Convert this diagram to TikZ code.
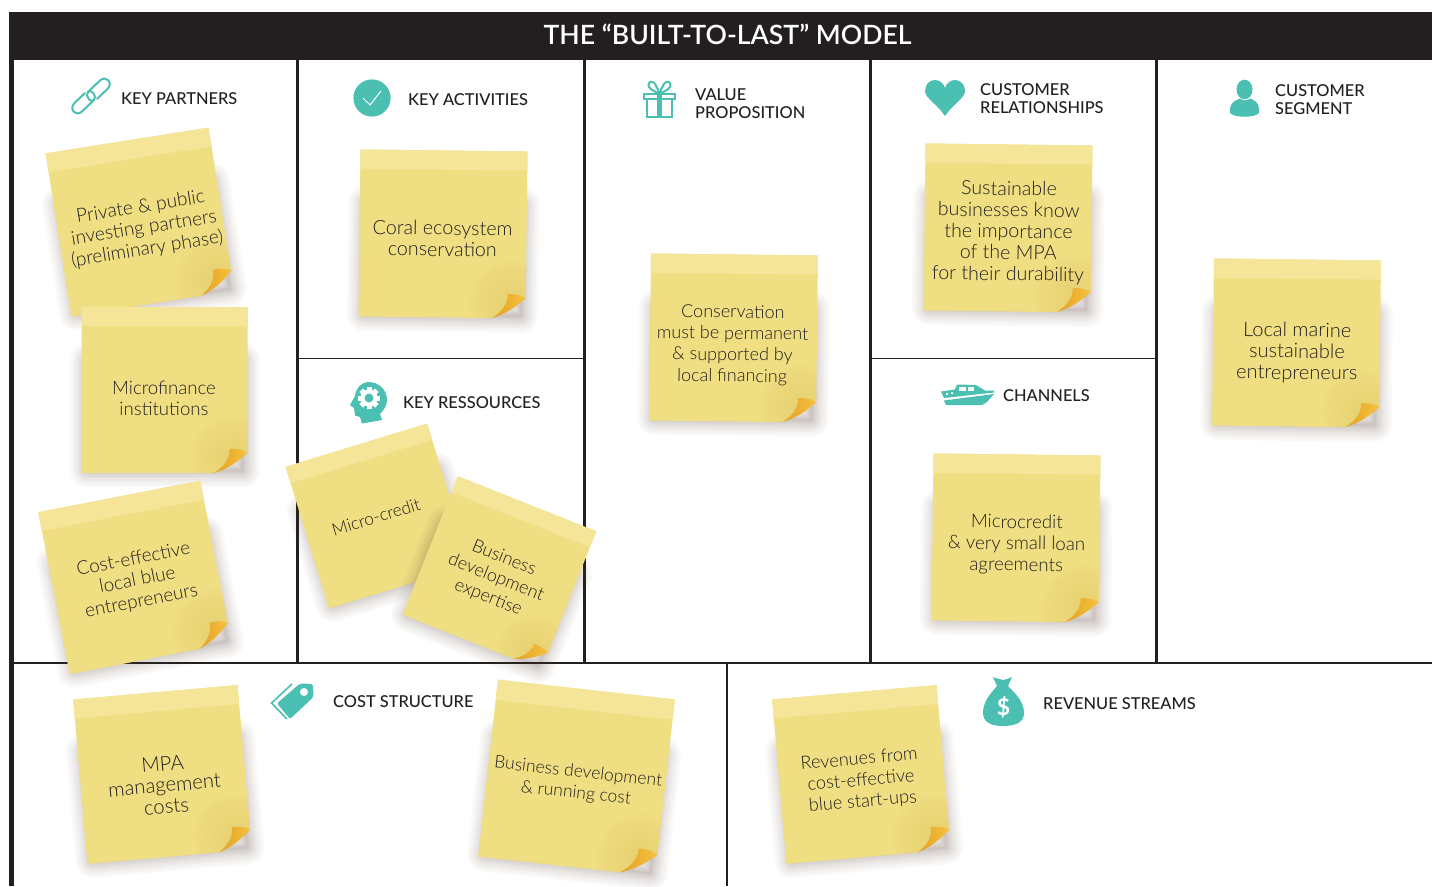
\documentclass[tikz,border=0pt]{standalone}
\usepackage{fontspec}
\setmainfont{Lato}
\newfontfamily\notefont{Lato Light}
\newfontfamily\headfont{Lato Medium}
\newfontfamily\titlefont{Lato Semibold}
\definecolor{ink}{HTML}{231F20}
\definecolor{teal}{HTML}{4BBFB1}
\definecolor{notebody}{HTML}{F0DE82}
\definecolor{noteband}{HTML}{F4E599}
\definecolor{noteshade}{HTML}{CDB04E}
\definecolor{foldA}{HTML}{E5A023}
\definecolor{foldB}{HTML}{F4C23F}
\definecolor{shadowc}{HTML}{5E4238}
\def\nfs{18.6}
\tikzset{
  gridline/.style={draw=ink,line width=2.8pt},
  thinline/.style={draw=ink,line width=1.8pt},
  icon/.style={fill=teal,draw=none},
  iconline/.style={draw=teal,line width=2pt,fill=none},
  heading/.style={anchor=west,inner sep=0pt,align=left,text=ink,font=\headfont\fontsize{16.4}{18}\selectfont},
  notetext/.style={inner sep=0pt,align=center,text=ink,font=\notefont\fontsize{\nfs}{21.3}\selectfont},
}
% name, cx, cy, rotation, size, text x, text y, text
\newcommand{\stickynote}[8]{%
  \begin{scope}[shift={(#2,#3)},rotate=#4,scale=#5/165]
    \foreach \w in {1,3,5,7,10,13,16,20,24,29,34}
      \draw[shadowc,opacity=.03,line width=\w pt,line join=round]
        (-77,-30) -- (78,-30) -- (78,80) -- (-77,80) -- cycle;
    \fill[notebody] (-82.5,-82.5) -- (82.5,-82.5) -- (82.5,62.5)
      .. controls (76,58.5) and (71,58.5) .. (64.5,58.5)
      .. controls (65,69) and (58,77) .. (49.5,82.5) -- (-82.5,82.5) -- cycle;
    \begin{scope}
      \clip (-82.5,-82.5) -- (82.5,-82.5) -- (82.5,62.5)
        .. controls (76,58.5) and (71,58.5) .. (64.5,58.5)
        .. controls (65,69) and (58,77) .. (49.5,82.5) -- (-82.5,82.5) -- cycle;
      \foreach \r in {6,10,...,42}
        \fill[noteshade,opacity=.022] (68,68) circle[radius=\r pt];
    \end{scope}
    \fill[noteband] (-82.5,-82.5) -- (82.5,-82.5) -- (82.5,-63.5) -- (-82.5,-63.5) -- cycle;
    \shade[left color=foldA,right color=foldB]
      (64.5,58.5) .. controls (71,58.5) and (76,58.5) .. (82.5,62.5)
      .. controls (74,70) and (64,78) .. (49.5,82.5)
      .. controls (58,77) and (65,69) .. (64.5,58.5) -- cycle;
  \end{scope}
  \node[notetext,rotate=#4] (#1) at (#6,#7) {#8};
}
\begin{document}
\begin{tikzpicture}[x=1pt,y=-1pt]
\useasboundingbox (0,0) rectangle (1432,886);
\fill[white] (0,0) rectangle (1432,886);
% frame
\fill[ink] (9,12) rectangle (1432,60);
\coordinate (lefttop) at (11.5,60);
\coordinate (leftbot) at (11.5,886);
\draw[draw=ink,line width=4.6pt] (lefttop) -- (leftbot);
\node[inner sep=0pt,text=white,font=\titlefont\fontsize{26.6}{30}\selectfont] (title) at (727.5,34) {THE “BUILT-TO-LAST” MODEL};
\foreach \x/\nm in {297.7/a,584.2/b,870.7/c,1156.8/d}{
  \coordinate (t\nm) at (\x,60);
  \coordinate (b\nm) at (\x,663);
  \draw[gridline] (t\nm) -- (b\nm);
}
\coordinate (midl) at (14,663);
\coordinate (midr) at (1432,663);
\draw[gridline] (midl) -- (midr);
\coordinate (splitt) at (727,663);
\coordinate (splitb) at (727,886);
\draw[gridline] (splitt) -- (splitb);
\coordinate (h1a) at (298,358.5);
\coordinate (h1b) at (584,358.5);
\draw[thinline] (h1a) -- (h1b);
\coordinate (h2a) at (871,358.5);
\coordinate (h2b) at (1157,358.5);
\draw[thinline] (h2a) -- (h2b);
% headings
\node[heading] (hpartners) at (121,99) {KEY PARTNERS};
\node[heading] (hactivities) at (408,100) {KEY ACTIVITIES};
\node[heading] (hvalue) at (695,104) {VALUE\\PROPOSITION};
\node[heading] (hrel) at (980,98.5) {CUSTOMER\\RELATIONSHIPS};
\node[heading] (hseg) at (1275,99.5) {CUSTOMER\\SEGMENT};
\node[heading] (hres) at (403,403) {KEY RESSOURCES};
\node[heading] (hchan) at (1003,396) {CHANNELS};
\node[heading] (hcost) at (333,702) {COST STRUCTURE};
\node[heading] (hrev) at (1043,703.5) {REVENUE STREAMS};
% link icon
\draw[iconline,line cap=round] (85,93) -- (75,102.5) .. controls (71,106) and (72,110) .. (74,112)
  .. controls (76,114) and (79,114) .. (82,111.5) -- (93,101)
  .. controls (96,98) and (95,94.5) .. (93,92.5) .. controls (92,91.5) and (90,91) .. (88,91.5);
\draw[iconline,line cap=round] (97,99) -- (107,89.5) .. controls (111,86) and (110,82) .. (108,80)
  .. controls (106,78) and (103,78) .. (100,80.5) -- (89,91)
  .. controls (86,94) and (87,97.5) .. (89,99.5) .. controls (90,100.5) and (92,101) .. (94,100.5);
% check icon
\fill[icon] (372,98) circle[radius=18.6pt];
\draw[white,line width=1pt] (363,98) -- (370,105) -- (381,91);
% gift icon
\draw[iconline] (644,93.5) rectangle (674.5,98.5);
\draw[iconline] (647,98.5) rectangle (672,116.5);
\fill[icon] (657,93) rectangle (662,117);
\draw[iconline] (658,93) .. controls (653,91) and (648,88) .. (648.5,84.5) .. controls (649,81) and (653,81) .. (655,84) .. controls (657,87) and (658,90) .. (659.5,93);
\draw[iconline] (661,93) .. controls (666,91) and (671,88) .. (670.5,84.5) .. controls (670,81) and (666,81) .. (664,84) .. controls (662,87) and (661,90) .. (659.5,93);
% heart icon
\fill[icon] (945,116) .. controls (937,104) and (925,98) .. (925,91)
  .. controls (925,84) and (930,80) .. (935,80)
  .. controls (940,80) and (944,84) .. (945,88)
  .. controls (946,84) and (950,80) .. (955,80)
  .. controls (960,80) and (965,84) .. (965,91)
  .. controls (965,98) and (953,104) .. (945,116) -- cycle;
% person icon
\fill[icon] (1244.5,89.5) ellipse[x radius=8,y radius=9.8];
\fill[icon] (1230,108) .. controls (1231,102) and (1236,100) .. (1240,98.5)
  .. controls (1243,101) and (1247,101) .. (1250,98.5)
  .. controls (1254,100) and (1258,102) .. (1259,108) -- (1259,113)
  .. controls (1255,118) and (1234,118) .. (1230,113) -- cycle;
% head icon
\fill[icon] (368,382) .. controls (379,382) and (387,390) .. (387,400)
  .. controls (387,405) and (384,410) .. (380,414) -- (382,420) -- (362,423.5)
  -- (360,417) -- (355,415.5) -- (354,408) -- (350,405) -- (355,396)
  .. controls (356,388) and (362,382) .. (368,382) -- cycle;
\fill[white] (369,398) circle[radius=8.5pt];
\foreach \a in {0,45,...,315}
  \fill[white,shift={(369,398)},rotate=\a] (-2.5,-11) rectangle (2.5,0);
\fill[icon] (369,398) circle[radius=4.5pt];
% boat icon
\fill[icon] (941,391.5) -- (955,389.5) -- (957,384.5) -- (976,385) -- (985,390.5) -- (994,390.5)
  -- (994,392.5) -- (944,398) -- cycle;
\fill[white] (959,387) rectangle (966,391);
\fill[white] (968,387) rectangle (974,391);
\fill[white] (946,392.5) rectangle (948,394.5);
\fill[white] (951,392) rectangle (953,394);
\fill[icon] (944,400.5) -- (994,394) -- (987,402) -- (982,405) -- (946,405) -- cycle;
% tag icon
\draw[iconline,line width=1.6pt,line join=miter] (292,684) -- (271.5,703) -- (287,719);
\fill[icon,rounded corners=2pt] (300,683.5) -- (313,684) -- (313.5,697) -- (290,719) -- (277,703.3) -- cycle;
\fill[white] (304,692) circle[radius=4pt];
% money bag icon
\fill[icon] (993,677) .. controls (997,679) and (1001,679) .. (1003,680)
  .. controls (1006,679) and (1009,679) .. (1012,677)
  -- (1008,686) .. controls (1016,694) and (1024,702) .. (1024,713)
  .. controls (1024,722) and (1016,726) .. (1003,726)
  .. controls (991,726) and (983,722) .. (983,713)
  .. controls (983,702) and (990,694) .. (997,686) -- cycle;
\node[inner sep=0pt,text=white,font=\bfseries\fontsize{23}{24}\selectfont] (dollar) at (1003.5,707) {\$};
% notes
\def\nfs{19.1}
\stickynote{n1}{140}{222}{9}{165}{144}{228.5}{Private \& public\\investing partners\\(preliminary phase)}
\def\nfs{18.6}
\stickynote{n2}{164.5}{390}{0}{166}{164}{398}{Microfinance\\institutions}
\def\nfs{18.9}
\stickynote{n3}{135}{577.5}{11}{165}{137.5}{580.5}{Cost-effective\\local blue\\entrepreneurs}
\def\nfs{19.7}
\stickynote{n4}{443}{234}{-0.7}{167}{442.5}{238.5}{Coral ecosystem\\conservation}
\def\nfs{18.0}
\stickynote{n5}{733.5}{338}{-0.7}{167}{732.5}{345}{Conservation\\must be permanent\\\& supported by\\local financing}
\def\nfs{19.6}
\stickynote{n6}{1008}{228}{-0.7}{167}{1008.5}{232.5}{Sustainable\\businesses know\\the importance\\of the MPA\\for their durability}
\def\nfs{18.7}
\stickynote{n7}{1016}{538}{-0.7}{167}{1016.5}{544.5}{Microcredit\\\& very small loan\\agreements}
\def\nfs{20.0}
\stickynote{n8}{1296.5}{343}{-0.7}{167}{1297}{352.5}{Local marine\\sustainable\\entrepreneurs}
\def\nfs{17.3}
\stickynote{n9}{378}{516}{17}{148}{376}{517}{Micro-credit}
\def\nfs{18.0}
\stickynote{n10}{499.5}{573}{-21.7}{149}{496}{578}{Business\\development\\expertise}
\def\nfs{20.3}
\stickynote{n11}{162.5}{774.5}{5}{165}{164.5}{785}{MPA\\management\\costs}
\def\nfs{17.5}
\stickynote{n12}{576.5}{778}{-6.4}{178}{577}{783}{Business development\\\& running cost}
\def\nfs{18.2}
\stickynote{n13}{861.5}{774.5}{5}{165}{861}{781}{Revenues from\\cost-effective\\blue start-ups}
\end{tikzpicture}
\end{document}
